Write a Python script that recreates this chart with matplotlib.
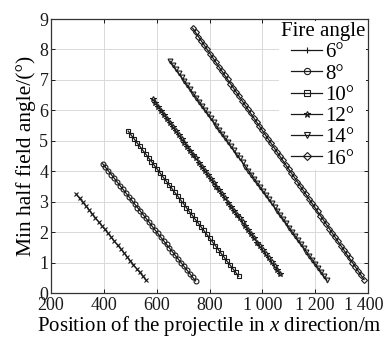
import matplotlib
matplotlib.use('Agg')
import matplotlib.pyplot as plt
from matplotlib.lines import Line2D
from matplotlib.ticker import FuncFormatter
from matplotlib.transforms import ScaledTranslation

plt.rcParams['font.family'] = ['Liberation Serif', 'DejaVu Serif']
plt.rcParams['mathtext.fontset'] = 'custom'
plt.rcParams['mathtext.rm'] = 'Liberation Serif'
plt.rcParams['mathtext.it'] = 'Liberation Serif:italic'

# --- data ---
angle_labels = ['6°', '8°', '10°', '12°', '14°', '16°']

x6 = [296, 308, 320, 332, 344, 356, 368, 380, 392, 404, 416, 428, 440, 452, 464,
      476, 488, 500, 512, 524, 536, 548, 560]
y6 = [3.24, 3.11, 2.98, 2.86, 2.73, 2.60, 2.47, 2.34, 2.21, 2.09, 1.96, 1.83, 1.70,
      1.57, 1.45, 1.32, 1.19, 1.06, 0.93, 0.80, 0.68, 0.55, 0.42]

x8 = [395, 406, 417, 428, 439, 450, 461, 472, 483, 494, 505, 516, 527, 538, 549,
      560, 571, 582, 593, 604, 615, 626, 637, 648, 659, 670, 681, 692, 703, 714,
      725, 736, 747]
y8 = [4.25, 4.13, 4.01, 3.89, 3.77, 3.65, 3.53, 3.41, 3.29, 3.17, 3.05, 2.93, 2.81,
      2.69, 2.57, 2.45, 2.33, 2.20, 2.08, 1.96, 1.84, 1.72, 1.60, 1.48, 1.36, 1.24,
      1.12, 1.00, 0.88, 0.76, 0.64, 0.52, 0.40]

x10 = [492, 503, 514, 525, 536, 547, 558, 569, 580, 591, 602, 613, 624, 635, 646,
       657, 668, 679, 690, 701, 712, 723, 734, 745, 756, 767, 778, 789, 800, 811,
       822, 833, 844, 855, 866, 877, 888, 899, 910]
y10 = [5.32, 5.19, 5.07, 4.94, 4.82, 4.69, 4.57, 4.44, 4.32, 4.19, 4.07, 3.94, 3.81,
       3.69, 3.56, 3.44, 3.31, 3.19, 3.06, 2.94, 2.81, 2.68, 2.56, 2.43, 2.31, 2.18,
       2.06, 1.93, 1.81, 1.68, 1.56, 1.43, 1.30, 1.18, 1.05, 0.93, 0.80, 0.68, 0.55]

x12 = [584, 595, 606, 617, 628, 639, 650, 661, 672, 683, 694, 705, 716, 727, 738,
       749, 760, 771, 782, 793, 804, 815, 826, 837, 848, 859, 870, 881, 892, 903,
       914, 925, 936, 947, 958, 969, 980, 991, 1002, 1013, 1024, 1035, 1046, 1057,
       1068]
y12 = [6.38, 6.25, 6.12, 5.99, 5.86, 5.73, 5.59, 5.46, 5.33, 5.20, 5.07, 4.94, 4.81,
       4.68, 4.55, 4.42, 4.28, 4.15, 4.02, 3.89, 3.76, 3.63, 3.50, 3.37, 3.24, 3.11,
       2.97, 2.84, 2.71, 2.58, 2.45, 2.32, 2.19, 2.06, 1.93, 1.80, 1.66, 1.53, 1.40,
       1.27, 1.14, 1.01, 0.88, 0.75, 0.62]

x14 = [650, 661, 672, 683, 694, 705, 716, 727, 738, 749, 760, 771, 782, 793, 804,
       815, 826, 837, 848, 859, 870, 881, 892, 903, 914, 925, 936, 947, 958, 969,
       980, 991, 1002, 1013, 1024, 1035, 1046, 1057, 1068, 1079, 1090, 1101, 1112,
       1123, 1134, 1145, 1156, 1167, 1178, 1189, 1200, 1211, 1222, 1233, 1244]
y14 = [7.62, 7.49, 7.35, 7.22, 7.09, 6.95, 6.82, 6.69, 6.55, 6.42, 6.29, 6.15, 6.02,
       5.89, 5.75, 5.62, 5.49, 5.35, 5.22, 5.09, 4.95, 4.82, 4.69, 4.55, 4.42, 4.29,
       4.15, 4.02, 3.89, 3.75, 3.62, 3.49, 3.35, 3.22, 3.09, 2.95, 2.82, 2.69, 2.55,
       2.42, 2.29, 2.15, 2.02, 1.89, 1.75, 1.62, 1.49, 1.35, 1.22, 1.09, 0.96, 0.82,
       0.69, 0.55, 0.42]

x16 = [736, 747, 758, 769, 780, 791, 802, 813, 824, 835, 846, 857, 868, 879, 890,
       901, 912, 923, 934, 945, 956, 967, 978, 989, 1000, 1011, 1022, 1033, 1044,
       1055, 1066, 1077, 1088, 1099, 1110, 1121, 1132, 1143, 1154, 1165, 1176, 1187,
       1198, 1209, 1220, 1231, 1242, 1253, 1264, 1275, 1286, 1297, 1308, 1319, 1330,
       1341, 1352, 1363, 1374, 1385]
y16 = [8.70, 8.56, 8.42, 8.28, 8.14, 8.00, 7.86, 7.72, 7.58, 7.44, 7.30, 7.16, 7.02,
       6.88, 6.74, 6.60, 6.46, 6.32, 6.18, 6.04, 5.90, 5.76, 5.62, 5.48, 5.34, 5.20,
       5.06, 4.92, 4.78, 4.64, 4.50, 4.36, 4.22, 4.08, 3.94, 3.80, 3.66, 3.52, 3.38,
       3.24, 3.10, 2.96, 2.82, 2.68, 2.54, 2.40, 2.26, 2.12, 1.98, 1.84, 1.70, 1.56,
       1.42, 1.28, 1.14, 1.00, 0.86, 0.72, 0.58, 0.44]

xs = [x6, x8, x10, x12, x14, x16]
ys = [y6, y8, y10, y12, y14, y16]
marcadores = ['x', 'o', 's', '*', 'v', 'D']
marcadores_leg = ['+', 'o', 's', '*', 'v', 'D']
tamanhos = [3.5, 3.5, 3.0, 4.0, 3.5, 3.0]
cor = '#1a1a1a'

fig = plt.figure(figsize=(3.87, 3.40), dpi=100)
ax = fig.add_axes([0.132, 0.138, 0.819, 0.806])

for x, y, m, ms in zip(xs, ys, marcadores, tamanhos):
    ax.plot(x, y, color=cor, lw=0.9, marker=m, ms=ms, mfc='none',
            mec=cor, mew=0.8, zorder=3)

ax.set_xlim(200, 1400)
ax.set_ylim(0, 9)
ax.set_xticks([200, 400, 600, 800, 1000, 1200, 1400])
ax.set_yticks(range(0, 10))
ax.xaxis.set_major_formatter(FuncFormatter(
    lambda v, p: ('%d' % v) if v < 1000 else '%d\u2009%03d' % (v // 1000, v % 1000)))
ax.tick_params(direction='in', top=True, right=True, length=3, width=0.7,
               labelsize=13, colors=cor)
ax.tick_params(axis='x', pad=3)
ax.tick_params(axis='y', pad=2)
ax.grid(True, color='#d9d9d9', lw=0.7)
ax.set_axisbelow(True)
for s in ax.spines.values():
    s.set_linewidth(0.9)
    s.set_color('#333333')

# ultimo rotulo do eixo x puxado um pouco para dentro
ult = ax.get_xticklabels()[-1]
ult.set_transform(ult.get_transform() + ScaledTranslation(-3 / 72, 0, fig.dpi_scale_trans))

ax.set_xlabel('Position of the projectile in $x$ direction/m', fontsize=15, labelpad=0)
ax.set_ylabel('Min half field angle/(°)', fontsize=15.5, labelpad=2)

handles = [Line2D([], [], color=cor, lw=0.9, marker=m, ms=4.5, mfc='none',
                  mec=cor, mew=0.8) for m in marcadores_leg]
leg = ax.legend(handles, angle_labels, title='Fire angle', loc='upper right',
                fontsize=15, title_fontsize=15, frameon=True, framealpha=1,
                edgecolor='none', fancybox=False, handlelength=1.5,
                handletextpad=0.15, labelspacing=0.08, borderpad=0.05,
                borderaxespad=0.1)
# legenda por baixo das curvas, mas por cima da grade
leg.set_zorder(2)

fig.savefig('out.png', dpi=100)
